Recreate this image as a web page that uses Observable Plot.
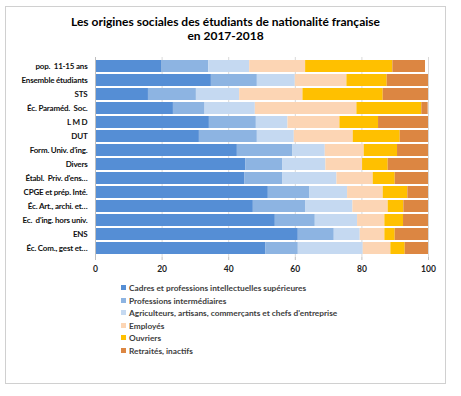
<!DOCTYPE html>
<html>
<head>
<meta charset="utf-8">
<script src="https://cdn.jsdelivr.net/npm/d3@7"></script>
<script src="https://cdn.jsdelivr.net/npm/@observablehq/plot@0.6"></script>
<style>
  body { margin: 0; background: #fff; font-family: Lato, "Open Sans", sans-serif; }
  #frame { position: absolute; left: 5px; top: 6px; width: 439px; height: 376px; border: 1px solid #d0d0d0; }
  #title { position: absolute; left: 5px; top: 15px; width: 441px; text-align: center; font-weight: bold; font-size: 12px; line-height: 14px; color: #000; }
  #chart { position: absolute; left: 0; top: 50px; }
  #legend { position: absolute; left: 121px; top: 282px; font-size: 8.3px; font-weight: bold; color: #404040; }
  .item { height: 12.6px; line-height: 12.6px; white-space: nowrap; }
  .sw { display: inline-block; width: 5px; height: 5px; margin-right: 3px; vertical-align: 1px; }
  #chart svg g[aria-label="y-axis tick label"] text { letter-spacing: -0.2px; }
</style>
</head>
<body>
<div id="frame"></div>
<div id="title">Les origines sociales des étudiants de nationalité française<br>en 2017-2018</div>
<div id="chart"></div>
<div id="legend"></div>
<script>
const categories = ["pop.  11-15 ans", "Ensemble étudiants", "STS", "Éc. Paraméd.  Soc.", "L M D", "DUT",
  "Form. Univ. d'ing.", "Divers", "Établ.  Priv. d'ens…", "CPGE et prép. Inté.", "Éc. Art., archi. et…",
  "Ec.  d'ing. hors univ.", "ENS", "Éc. Com., gest et…"];
const seriesNames = ["Cadres et professions intellectuelles supérieures", "Professions intermédiaires",
  "Agriculteurs, artisans, commerçants et chefs d'entreprise", "Employés", "Ouvriers", "Retraités, inactifs"];
const cadres    = [20, 34.8, 15.9, 23.4, 34.2, 31.2, 42.6, 45.1, 44.9, 51.9, 47.4, 54, 60.9, 51.2];
const profInter = [14, 13.8, 14.4, 9.5, 14.1, 17.4, 16.7, 11.2, 11.4, 12.5, 15.8, 12, 10.8, 9.7];
const agri      = [12.3, 11.4, 13, 15.1, 9.5, 11.1, 9.7, 12.9, 16.2, 11.3, 14.1, 12.7, 7.8, 19.5];
const employes  = [16.8, 15.5, 19, 30.5, 15.6, 17.7, 11.7, 11, 10.9, 10.7, 10.6, 8.2, 7.4, 8.3];
const ouvriers  = [26.2, 12.1, 24.1, 19.5, 11.6, 14.1, 10, 7.7, 6.6, 7.4, 4.7, 5.6, 3.1, 4.3];
const retraites = [9.8, 12.4, 13.6, 1.9, 15, 8.5, 9.3, 12.1, 10, 6.2, 7.4, 7.5, 10, 7];
const xTicks = [0, 20, 40, 60, 80, 100];
const colors = ["#558ed5", "#8db4e2", "#c5d9f1", "#fcd5b4", "#ffc000", "#dc8642"];

const seriesValues = [cadres, profInter, agri, employes, ouvriers, retraites];
const data = [];
categories.forEach((c, i) => {
  seriesNames.forEach((s, j) => data.push({cat: c, series: s, value: seriesValues[j][i]}));
});

const chart = Plot.plot({
  width: 461,
  height: 227,
  marginLeft: 95,
  marginRight: 33,
  marginTop: 7,
  marginBottom: 20,
  style: {fontFamily: "Lato, sans-serif", fontSize: "8.5px", fontWeight: "bold", color: "#000"},
  x: {domain: [0, 100]},
  y: {domain: categories, padding: 0.17},
  color: {domain: seriesNames, range: colors},
  marks: [
    Plot.ruleX(xTicks, {stroke: "#d9d9d9", strokeWidth: 1}),
    Plot.barX(data, {x: "value", y: "cat", fill: "series"}),
    Plot.ruleX([0], {stroke: "#bfbfbf"}),
    Plot.ruleY([0], {frameAnchor: "bottom", stroke: "#bfbfbf"}),
    Plot.axisX({ticks: xTicks, tickSize: 3, tickPadding: 5, stroke: "#bfbfbf", label: null, fontWeight: "bold", fill: "#222"}),
    Plot.axisY({tickSize: 0, tickPadding: 8, label: null, fontWeight: "bold", fill: "#111", fontSize: 8})
  ]
});
document.getElementById("chart").appendChild(chart);

const legend = document.getElementById("legend");
seriesNames.forEach((s, j) => {
  const d = document.createElement("div");
  d.className = "item";
  d.innerHTML = `<span class="sw" style="background:${colors[j]}"></span>${s}`;
  legend.appendChild(d);
});
</script>
</body>
</html>
